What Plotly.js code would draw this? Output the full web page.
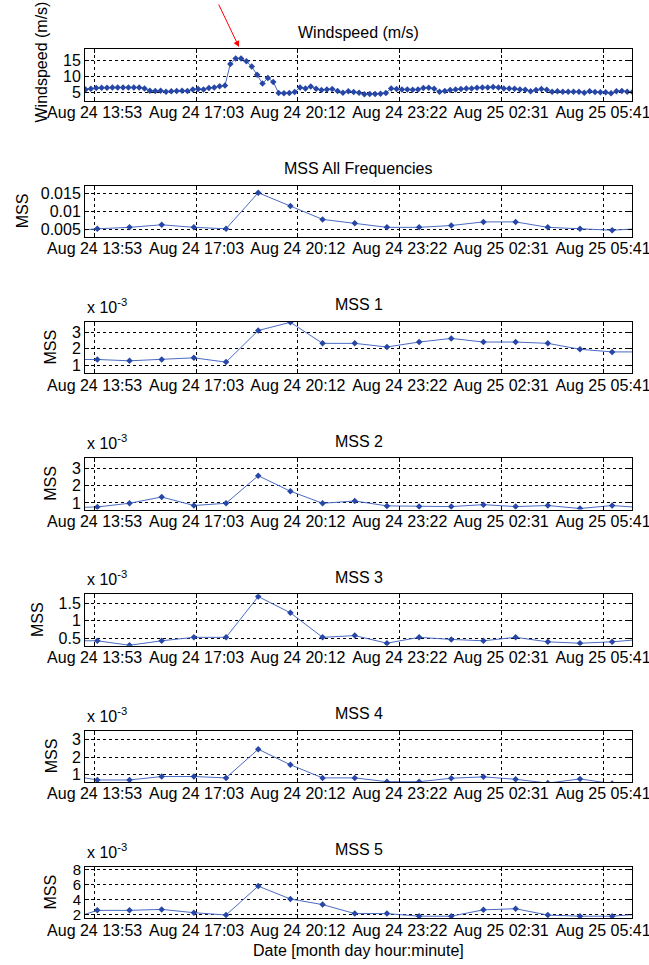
<!DOCTYPE html>
<html><head><meta charset="utf-8">
<script src="https://cdn.plot.ly/plotly-3.0.1.min.js"></script>
<style>html,body{margin:0;padding:0;background:#fff;} #chart{width:649px;height:965px;}</style>
</head><body><div id="chart"></div>
<script>
// ---------- data ----------
const windStart = {day: 24, minute: 13 * 60 + 36};   // first windspeed sample, 10-min sampling
const windStepMin = 10;
const windSpeed = [6.0,6.2,6.4,6.5,6.5,6.6,6.6,6.6,6.6,6.6,6.6,6.3,5.6,5.5,5.6,5.3,5.4,5.5,5.6,5.5,
  6.0,6.1,6.0,6.4,6.6,7.0,7.2,13.8,15.5,15.5,14.6,13.0,10.5,7.8,9.5,8.3,4.9,4.8,4.9,5.2,
  6.6,6.3,6.9,6.2,5.8,6.0,6.1,5.5,5.0,5.4,5.2,5.0,4.5,4.6,4.6,4.7,4.9,6.3,6.1,6.0,
  6.0,5.9,6.0,6.4,6.5,6.2,5.3,5.5,5.8,6.0,6.1,6.3,6.3,6.5,6.6,6.6,6.7,6.6,6.3,6.3,
  6.2,6.0,5.9,5.4,5.8,6.1,5.9,5.3,5.4,5.3,5.3,5.3,5.3,5.0,5.4,5.2,5.1,5.1,4.8,5.4,5.5,5.3,5.2];

const mssTimes = ['2009-08-24 12:58','2009-08-24 13:58','2009-08-24 14:58','2009-08-24 15:58','2009-08-24 16:58',
  '2009-08-24 17:58','2009-08-24 18:58','2009-08-24 19:58','2009-08-24 20:58','2009-08-24 21:58','2009-08-24 22:58',
  '2009-08-24 23:58','2009-08-25 00:58','2009-08-25 01:58','2009-08-25 02:58','2009-08-25 03:58','2009-08-25 04:58',
  '2009-08-25 05:58','2009-08-25 06:58'];
const mssAll = [0.0045,0.0052,0.0056,0.0063,0.0056,0.0052,0.0152,0.0115,0.0078,0.0067,0.0056,0.0056,0.0061,0.0071,0.0071,0.0056,0.0052,0.0048,0.0053];
// the following are in units of 1e-3
const mss1 = [1.34,1.34,1.26,1.34,1.44,1.18,3.10,3.60,2.32,2.32,2.10,2.40,2.62,2.40,2.40,2.32,1.96,1.80,1.80];
const mss2 = [0.72,0.77,0.98,1.34,0.85,0.98,2.56,1.67,0.98,1.11,0.83,0.79,0.79,0.90,0.79,0.85,0.68,0.85,0.72];
const mss3 = [0.42,0.42,0.29,0.42,0.52,0.52,1.70,1.23,0.52,0.57,0.35,0.52,0.46,0.42,0.52,0.39,0.35,0.39,0.47];
const mss4 = [0.99,0.68,0.68,0.88,0.88,0.80,2.46,1.56,0.80,0.80,0.58,0.58,0.78,0.86,0.72,0.50,0.74,0.47,0.45];
const mss5 = [1.15,2.53,2.53,2.66,2.22,1.91,5.77,4.05,3.30,2.10,2.10,1.75,1.75,2.60,2.75,1.90,1.75,1.75,2.07];

const xTickVals = ['2009-08-24 13:53','2009-08-24 17:03','2009-08-24 20:12','2009-08-24 23:22','2009-08-25 02:31','2009-08-25 05:41'];
const xTickText = ['Aug 24 13:53','Aug 24 17:03','Aug 24 20:12','Aug 24 23:22','Aug 25 02:31','Aug 25 05:41'];
const xRange = ['2009-08-24 13:35','2009-08-25 06:35'];

const panelTitles = ['Windspeed (m/s)','MSS All Frequencies','MSS 1','MSS 2','MSS 3','MSS 4','MSS 5'];
const yLabels = ['Windspeed (m/s)','MSS','MSS','MSS','MSS','MSS','MSS'];
const yTickVals = [[5,10,15],[0.005,0.01,0.015],[1,2,3],[1,2,3],[0.5,1,1.5],[1,2,3],[2,4,6,8]];
const yTickText = [['5','10','15'],['0.005','0.01','0.015'],['1','2','3'],['1','2','3'],['0.5','1','1.5'],['1','2','3'],['2','4','6','8']];
const yRanges = [[2.5,18.3],[0.0029,0.0172],[0.5,3.63],[0.62,3.57],[0.275,1.765],[0.56,3.54],[1.47,8.35]];
const xLabel = 'Date [month day hour:minute]';

// ---------- build ----------
function fmtTime(day, minute){
  const d = day + Math.floor(minute / 1440), m = minute % 1440;
  return '2009-08-' + d + ' ' + String(Math.floor(m/60)).padStart(2,'0') + ':' + String(m%60).padStart(2,'0');
}
const windTimes = windSpeed.map((_, i) => fmtTime(windStart.day, windStart.minute + i * windStepMin));

const seriesX = [windTimes, mssTimes, mssTimes, mssTimes, mssTimes, mssTimes, mssTimes];
const seriesY = [windSpeed, mssAll, mss1, mss2, mss3, mss4, mss5];

const H = 965, W = 649, L = 85, R = 17;
const plotW = W - L - R;
const top0 = 49.3, step = 136.25, boxH = 51.5;
const font = 'Liberation Sans, Arial, sans-serif';
const lineColor = '#4a6bc4', markColor = '#2747a6';

const data = [];
const layout = {
  width: W, height: H, showlegend: false,
  margin: {l: L, r: R, t: 0, b: 0, pad: 0},
  paper_bgcolor: '#fff', plot_bgcolor: '#fff',
  font: {family: font, size: 16, color: '#000'},
  annotations: []
};
const ylabX = [41.5, 22, 51, 51, 37, 51, 51];

for (let i = 0; i < 7; i++) {
  const s = i === 0 ? '' : String(i + 1);
  const top = top0 + step * i, bot = top + boxH;
  data.push({
    type: 'scatter', mode: 'lines+markers',
    x: seriesX[i], y: seriesY[i],
    xaxis: 'x' + s, yaxis: 'y' + s,
    line: {color: lineColor, width: 1},
    marker: {symbol: 'diamond', size: 5, color: markColor},
    hoverinfo: 'skip'
  });
  const common = {
    showline: true, linecolor: '#000', linewidth: 1, mirror: 'ticks',
    ticks: 'inside', ticklen: 4, tickcolor: '#000',
    showgrid: true, gridcolor: '#000', gridwidth: 1, griddash: '3px,3px',
    zeroline: false, tickfont: {family: font, size: 16, color: '#000'},
    ticklabeloverflow: 'allow'
  };
  layout['xaxis' + s] = Object.assign({}, common, {
    type: 'date', domain: [0, 1], anchor: 'y' + s, range: xRange,
    tickmode: 'array', tickvals: xTickVals, ticktext: xTickText,
    ticklabelstandoff: -3
  });
  layout['yaxis' + s] = Object.assign({}, common, {
    domain: [(H - bot) / H, (H - top) / H], anchor: 'x' + s, range: yRanges[i],
    tickmode: 'array', tickvals: yTickVals[i], ticktext: yTickText[i],
    tickfont: {family: font, size: i === 6 ? 15 : 16, color: '#000'}
  });
  layout.annotations.push({
    xref: 'paper', yref: 'paper', x: 0.5, y: (H - (top - 17)) / H,
    xanchor: 'center', yanchor: 'middle', showarrow: false,
    text: panelTitles[i], font: {family: font, size: 16, color: '#000'}
  });
  if (i >= 2) {
    layout.annotations.push({
      xref: 'paper', yref: 'paper', x: 0, y: (H - (top - 16)) / H,
      xanchor: 'left', yanchor: 'middle', showarrow: false,
      text: 'x 10<sup>-3</sup>', font: {family: font, size: 16, color: '#000'}
    });
  }
  const ylabY = i === 0 ? 62 : top + boxH / 2;
  layout.annotations.push({
    xref: 'paper', yref: 'paper', x: (ylabX[i] - L) / plotW, y: (H - ylabY) / H,
    xanchor: 'center', yanchor: 'middle', showarrow: false, textangle: -90,
    text: yLabels[i], font: {family: font, size: 16, color: '#000'}
  });
}
// x-axis label under the last panel
layout.annotations.push({
  xref: 'paper', yref: 'paper', x: 0.5, y: (H - 950) / H,
  xanchor: 'center', yanchor: 'middle', showarrow: false,
  text: xLabel, font: {family: font, size: 16, color: '#000'}
});
// red arrow pointing at the windspeed peak
layout.annotations.push({
  xref: 'paper', yref: 'paper', x: (239 - L) / plotW, y: (H - 47) / H,
  text: '', showarrow: true, arrowhead: 2, arrowsize: 1.2, arrowwidth: 1,
  arrowcolor: '#ff0000', ax: -21, ay: -44, standoff: 0
});

Plotly.newPlot('chart', data, layout, {displayModeBar: false, staticPlot: true});
</script>
</body></html>
